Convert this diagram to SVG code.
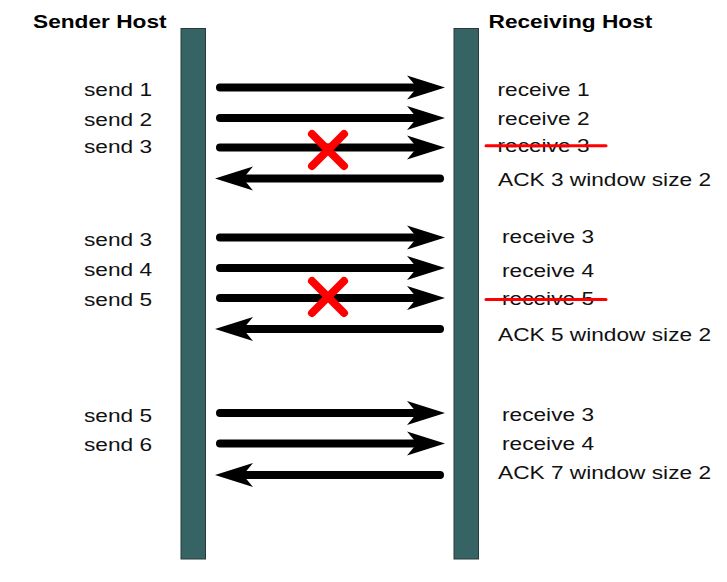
<svg xmlns="http://www.w3.org/2000/svg" width="727" height="582" viewBox="0 0 727 582">
<style>
.bar{fill:#366464;stroke:#2a3a3a;stroke-width:1}
.t{font-family:"Liberation Sans",Arial,sans-serif;font-size:18.6px;fill:#111}
.h{font-family:"Liberation Sans",Arial,sans-serif;font-size:18.6px;font-weight:bold;fill:#000}
.arr{stroke:#000;stroke-width:8;stroke-linecap:round;fill:none;marker-end:url(#head)}
.x{stroke:#ff0000;stroke-width:8;stroke-linecap:round}
.strike{stroke:#ff0000;stroke-width:3;stroke-linecap:round}
</style>
<defs>
<marker id="head" markerUnits="userSpaceOnUse" markerWidth="40" markerHeight="26" viewBox="0 0 40 26" refX="10" refY="13" orient="auto">
<path d="M0,1 L38,13 L0,25 L10,13 Z" fill="#000"/>
</marker>
</defs>
<rect width="727" height="582" fill="#fff"/>
<g id="sender">
<rect class="bar" x="181" y="28.5" width="24.5" height="530.5"/>
<text class="h" transform="translate(33,28) scale(1.22,1)">Sender Host</text>
</g>
<g id="receiver">
<rect class="bar" x="454" y="28.5" width="24.5" height="530.5"/>
<text class="h" transform="translate(488.5,28) scale(1.22,1)">Receiving Host</text>
</g>
<g id="sender-labels">
<text class="t" transform="translate(84,96) scale(1.22,1)">send 1</text>
<text class="t" transform="translate(84,126) scale(1.22,1)">send 2</text>
<text class="t" transform="translate(84,153) scale(1.22,1)">send 3</text>
<text class="t" transform="translate(84,246) scale(1.22,1)">send 3</text>
<text class="t" transform="translate(84,276) scale(1.22,1)">send 4</text>
<text class="t" transform="translate(84,306) scale(1.22,1)">send 5</text>
<text class="t" transform="translate(84,421.5) scale(1.22,1)">send 5</text>
<text class="t" transform="translate(84,451) scale(1.22,1)">send 6</text>
</g>
<g id="receiver-labels">
<text class="t" transform="translate(497.5,96) scale(1.22,1)">receive 1</text>
<text class="t" transform="translate(497.5,125) scale(1.22,1)">receive 2</text>
<text class="t" transform="translate(497.5,152) scale(1.22,1)">receive 3</text>
<text class="t" transform="translate(498,186) scale(1.22,1)">ACK 3 window size 2</text>
<text class="t" transform="translate(502,243) scale(1.22,1)">receive 3</text>
<text class="t" transform="translate(502,277) scale(1.22,1)">receive 4</text>
<text class="t" transform="translate(502,305) scale(1.22,1)">receive 5</text>
<text class="t" transform="translate(498,341) scale(1.22,1)">ACK 5 window size 2</text>
<text class="t" transform="translate(502,421) scale(1.22,1)">receive 3</text>
<text class="t" transform="translate(502,450) scale(1.22,1)">receive 4</text>
<text class="t" transform="translate(498,479) scale(1.22,1)">ACK 7 window size 2</text>
</g>
<g id="connectors">
<line class="arr" x1="220" y1="87.5" x2="417" y2="87.5"/>
<line class="arr" x1="220" y1="118" x2="417" y2="118"/>
<line class="arr" x1="220" y1="147.5" x2="417" y2="147.5"/>
<line class="arr" x1="440" y1="178.5" x2="243" y2="178.5"/>
<line class="arr" x1="220" y1="237.5" x2="417" y2="237.5"/>
<line class="arr" x1="220" y1="268" x2="417" y2="268"/>
<line class="arr" x1="220" y1="298" x2="417" y2="298"/>
<line class="arr" x1="440" y1="329" x2="243" y2="329"/>
<line class="arr" x1="220" y1="413" x2="417" y2="413"/>
<line class="arr" x1="220" y1="443.5" x2="417" y2="443.5"/>
<line class="arr" x1="440" y1="475" x2="243" y2="475"/>
</g>
<g id="loss-marks">
<line class="x" x1="312" y1="134" x2="344" y2="166"/>
<line class="x" x1="344" y1="134" x2="312" y2="166"/>
<line class="x" x1="312" y1="281" x2="344" y2="313"/>
<line class="x" x1="344" y1="281" x2="312" y2="313"/>
<line class="strike" x1="486" y1="145.7" x2="606" y2="145.7"/>
<line class="strike" x1="486" y1="299.5" x2="606" y2="299.5"/>
</g>
</svg>
